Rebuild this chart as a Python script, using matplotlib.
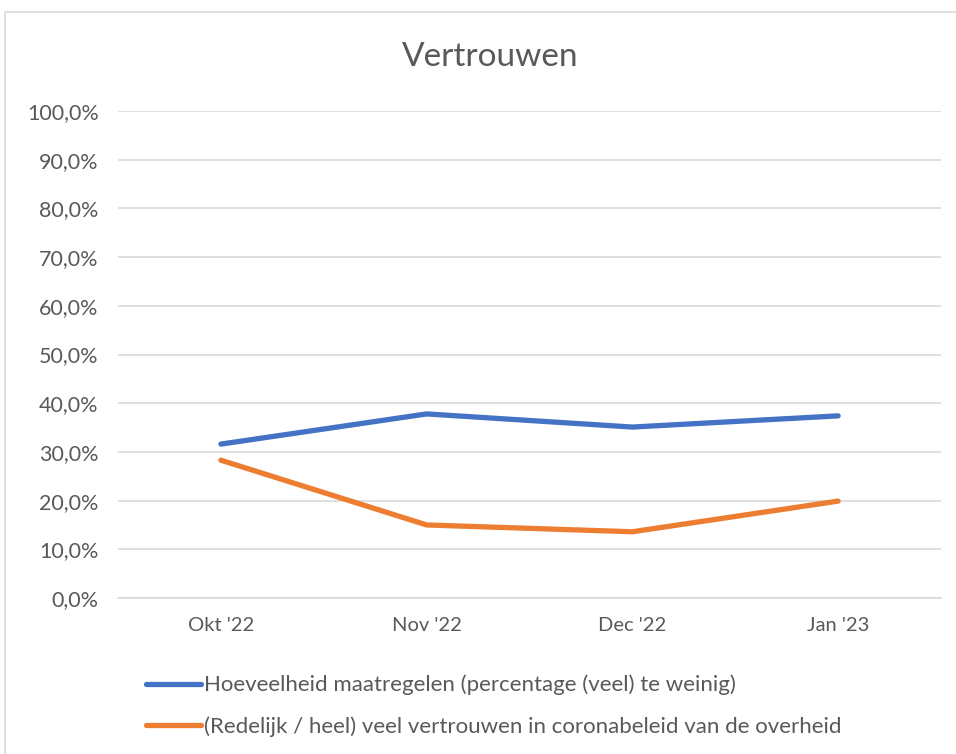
import matplotlib.pyplot as plt
from matplotlib.patches import Rectangle
from matplotlib.ticker import FuncFormatter

plt.rcParams['font.family'] = ['Lato', 'DejaVu Sans']

months = ["Okt '22", "Nov '22", "Dec '22", "Jan '23"]
maatregelen = [31.6, 37.8, 35.1, 37.4]
vertrouwen = [28.3, 15.0, 13.6, 19.9]
labels = ['Hoeveelheid maatregelen (percentage (veel) te weinig)',
          '(Redelijk / heel) veel vertrouwen in coronabeleid van de overheid']

grey = '#595959'

fig = plt.figure(figsize=(9.56, 7.54), dpi=100)
ax = fig.add_axes([118 / 956, 1 - 598 / 754, (941 - 118) / 956, (598 - 111) / 754])

x = range(len(months))
ax.plot(x, maatregelen, color='#4472C4', lw=3.8, solid_capstyle='round', label=labels[0])
ax.plot(x, vertrouwen, color='#ED7D31', lw=3.8, solid_capstyle='round', label=labels[1])

ax.set_xlim(-0.5, len(months) - 0.5)
ax.set_ylim(0, 100)
ax.set_yticks(range(0, 101, 10))
ax.yaxis.set_major_formatter(FuncFormatter(lambda v, p: f'{v:.1f}%'.replace('.', ',')))
ax.set_xticks(list(x))
ax.set_xticklabels(months)
ax.tick_params(length=0, labelsize=14.5, colors=grey)
ax.tick_params(axis='y', labelsize=15.5, pad=14)
ax.tick_params(axis='x', pad=14)
ax.grid(axis='y', color='#d9d9d9', lw=1.2)
ax.set_axisbelow(True)
for s in ['top', 'right', 'left']:
    ax.spines[s].set_visible(False)
ax.spines['bottom'].set_color('#d9d9d9')
ax.spines['bottom'].set_linewidth(1.2)

fig.text(490 / 956, 1 - 57 / 754, 'Vertrouwen', ha='center', va='center', fontsize=24, color=grey)

fig.legend(loc='upper left', bbox_to_anchor=(137 / 956, 1 - 666 / 754), frameon=False,
           fontsize=16, labelcolor=grey, handlelength=2.5, handletextpad=0.1,
           labelspacing=0.95, borderaxespad=0)

fig.add_artist(Rectangle((5 / 956, -0.1), 1.2, 0.1 + 1 - 12 / 754, transform=fig.transFigure,
                         fill=False, edgecolor='#d9d9d9', lw=1.2))

fig.savefig('out.png', dpi=100)
